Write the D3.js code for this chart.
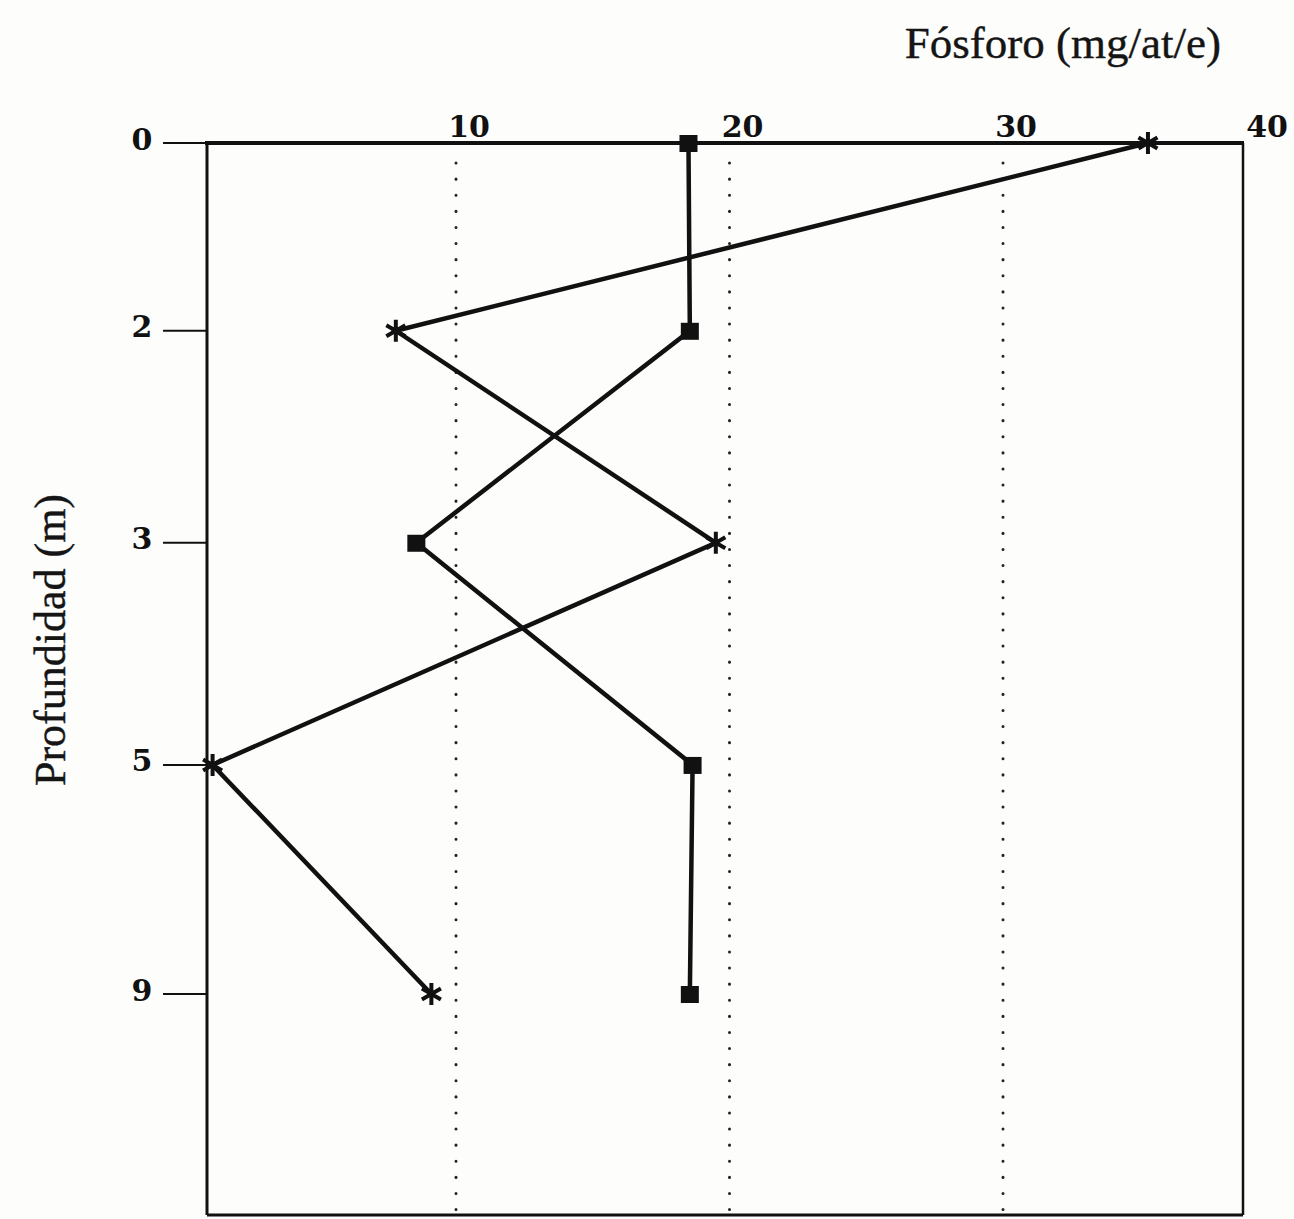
<!DOCTYPE html>
<html>
<head>
<meta charset="utf-8">
<script src="https://cdn.jsdelivr.net/npm/d3@7"></script>
<style>
  html, body { margin: 0; padding: 0; background: #fdfdfc; }
  svg { display: block; }
</style>
</head>
<body>
<svg id="chart" width="1294" height="1219"></svg>
<script>
// Sampling depths (m), shown as evenly stacked rows
const depths = ["0", "2", "3", "5", "9"];
// Phosphorus profile, square markers
const phosphorusA = [18.5, 18.55, 8.55, 18.65, 18.55];
// Phosphorus profile, asterisk markers
const phosphorusB = [35.3, 7.8, 19.5, 1.1, 9.1];
// Top axis tick values
const xTicks = [10, 20, 30, 40];

const W = 1294, H = 1219;
const box = { left: 207, right: 1243, top: 143, bottom: 1215 };

const svg = d3.select("#chart");

// Horizontal concentration scale (top axis)
const x = d3.scaleLinear().domain([10, 30]).range([456, 1003]);

// Depth rows: index-based, slightly widening downwards
const yIdx = d3.scalePow().exponent(1.09).domain([0, depths.length - 1]).range([143, 994]);
const y = d => yIdx(depths.indexOf(d));

const ink = "#111";
const serifBold = "'DejaVu Serif', serif";
const times = "'Liberation Serif', 'Times New Roman', serif";

// Dotted reference lines
svg.append("g").selectAll("line")
  .data(xTicks.filter(v => x(v) < box.right - 5))
  .join("line")
  .attr("x1", d => x(d)).attr("x2", d => x(d))
  .attr("y1", box.top + 20).attr("y2", box.bottom)
  .attr("stroke", "#222")
  .attr("stroke-width", 3)
  .attr("stroke-linecap", "round")
  .attr("stroke-dasharray", "0.1 16");

// Frame
svg.append("line").attr("x1", box.left - 2).attr("x2", box.right + 1)
  .attr("y1", box.top).attr("y2", box.top).attr("stroke", ink).attr("stroke-width", 4);
svg.append("line").attr("x1", box.left).attr("x2", box.left)
  .attr("y1", box.top).attr("y2", box.bottom).attr("stroke", ink).attr("stroke-width", 3);
svg.append("line").attr("x1", box.right).attr("x2", box.right)
  .attr("y1", box.top).attr("y2", box.bottom).attr("stroke", ink).attr("stroke-width", 2.5);
svg.append("line").attr("x1", box.left).attr("x2", box.right)
  .attr("y1", box.bottom).attr("y2", box.bottom).attr("stroke", ink).attr("stroke-width", 3);

// Top axis labels
svg.append("g").selectAll("text")
  .data(xTicks)
  .join("text")
  .attr("x", d => Math.min(x(d) + 13, W - 27))
  .attr("y", box.top - 6)
  .attr("text-anchor", "middle")
  .attr("font-family", serifBold)
  .attr("font-weight", "bold")
  .attr("font-size", 30)
  .attr("fill", ink)
  .text(d => d);

// Left depth ticks and labels
const yAxis = svg.append("g");
yAxis.selectAll("line")
  .data(depths)
  .join("line")
  .attr("x1", 163).attr("x2", box.left)
  .attr("y1", d => y(d)).attr("y2", d => y(d))
  .attr("stroke", ink).attr("stroke-width", 2);
yAxis.selectAll("text")
  .data(depths)
  .join("text")
  .attr("x", 142)
  .attr("y", d => y(d) - 4)
  .attr("dy", "0.35em")
  .attr("text-anchor", "middle")
  .attr("font-family", serifBold)
  .attr("font-weight", "bold")
  .attr("font-size", 30)
  .attr("fill", ink)
  .text(d => d);

// Axis titles
svg.append("text")
  .attr("x", 1221).attr("y", 58)
  .attr("text-anchor", "end")
  .attr("font-family", times)
  .attr("font-size", 45)
  .attr("fill", "#151515")
  .attr("stroke", "#151515")
  .attr("stroke-width", 0.4)
  .text("Fósforo (mg/at/e)");

svg.append("text")
  .attr("transform", "translate(65,640) rotate(-90)")
  .attr("text-anchor", "middle")
  .attr("font-family", times)
  .attr("font-size", 44)
  .attr("fill", "#151515")
  .attr("stroke", "#151515")
  .attr("stroke-width", 0.4)
  .text("Profundidad (m)");

// Profile lines
const line = d3.line().x(d => x(d.v)).y(d => y(d.depth));
const seriesA = depths.map((depth, i) => ({ depth, v: phosphorusA[i] }));
const seriesB = depths.map((depth, i) => ({ depth, v: phosphorusB[i] }));

[seriesA, seriesB].forEach(s => {
  svg.append("path")
    .datum(s)
    .attr("d", line)
    .attr("fill", "none")
    .attr("stroke", ink)
    .attr("stroke-width", 4.5)
    .attr("stroke-linejoin", "miter");
});

// Square markers
svg.append("g").selectAll("rect")
  .data(seriesA)
  .join("rect")
  .attr("x", d => x(d.v) - 9).attr("y", d => y(d.depth) - 8)
  .attr("width", 18).attr("height", 17)
  .attr("fill", ink);

// Asterisk markers
const starType = d3.symbolAsterisk || d3.symbolCross;
svg.append("g").selectAll("path")
  .data(seriesB)
  .join("path")
  .attr("transform", d => `translate(${x(d.v)},${y(d.depth)})`)
  .attr("d", d3.symbol(starType, 340))
  .attr("fill", "none")
  .attr("stroke", ink)
  .attr("stroke-width", 4);
</script>
</body>
</html>
